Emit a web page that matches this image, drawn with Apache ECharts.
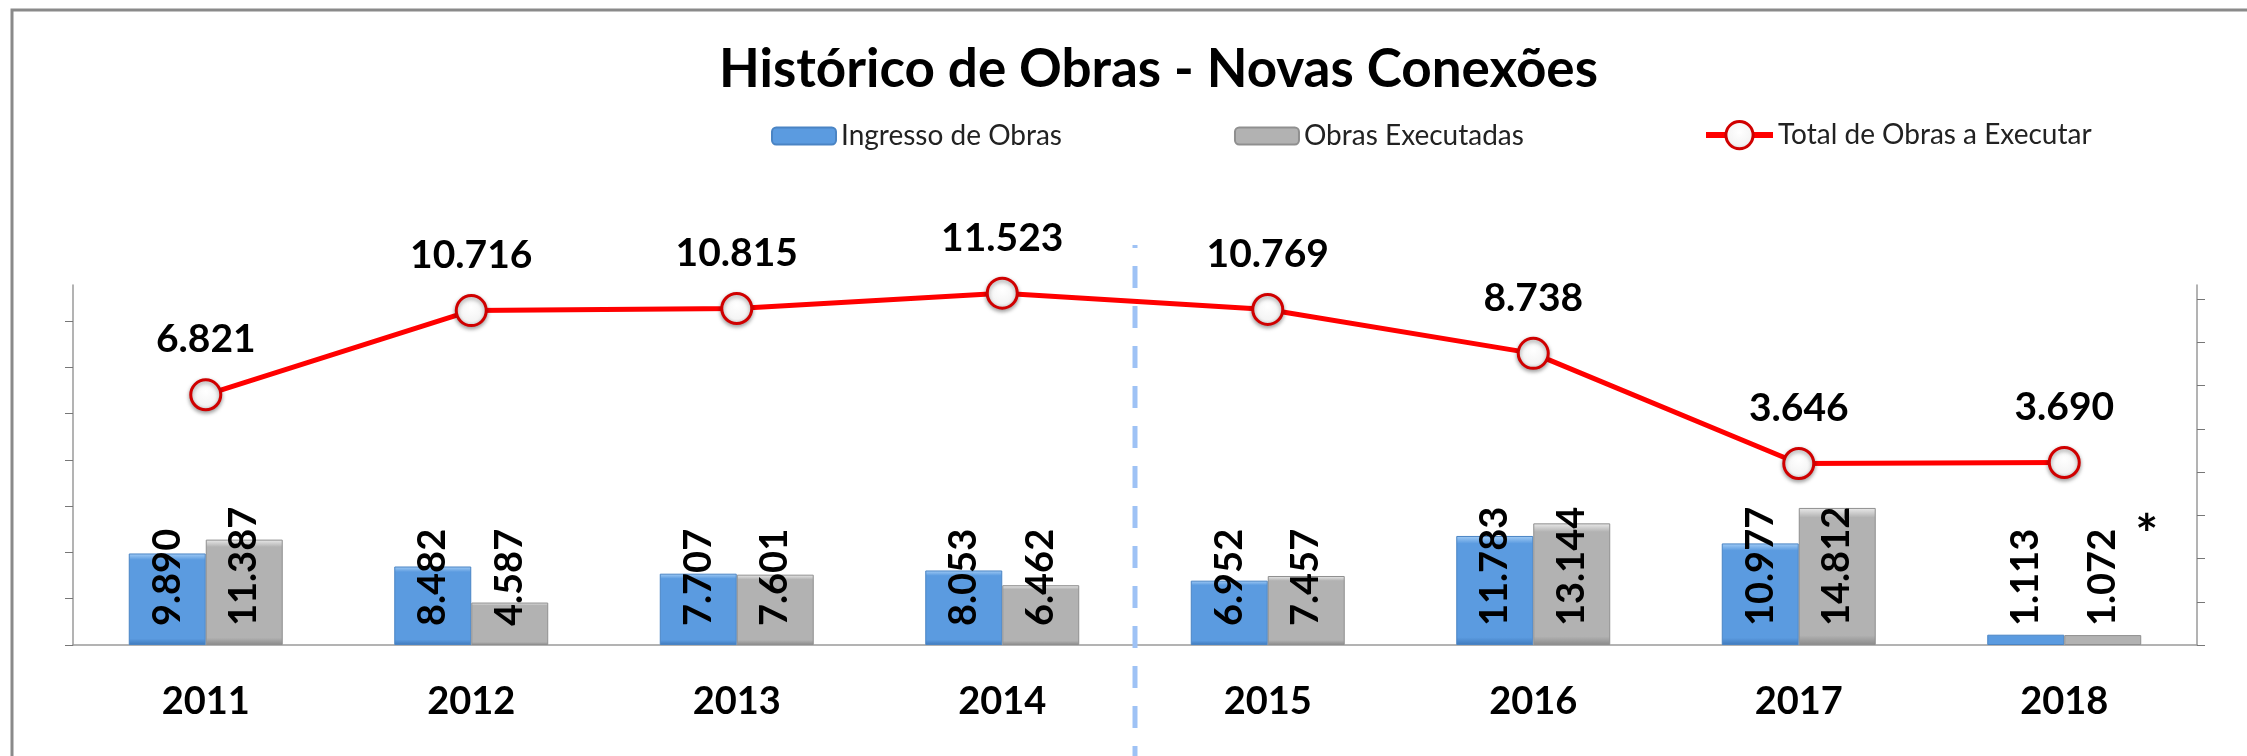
<!DOCTYPE html>
<html>
<head>
<meta charset="utf-8">
<script src="https://cdn.jsdelivr.net/npm/echarts@6/dist/echarts.min.js"></script>
<style>
  html, body { margin: 0; padding: 0; background: #fff; }
  #chart { width: 2247px; height: 756px; }
</style>
</head>
<body>
<div id="chart"></div>
<script>
const anos = ['2011', '2012', '2013', '2014', '2015', '2016', '2017', '2018']
const ingressoObras = [9890, 8482, 7707, 8053, 6952, 11783, 10977, 1113]
const obrasExecutadas = [11387, 4587, 7601, 6462, 7457, 13144, 14812, 1072]
const totalAExecutar = [6821, 10716, 10815, 11523, 10769, 8738, 3646, 3690]
// marcas dos eixos (sem rótulos no original)
const ticksEsquerda = [0, 5000, 10000, 15000, 20000, 25000, 30000, 35000]
const ticksDireita = [-4750, -2750, -750, 1250, 3250, 5250, 7250, 9250, 11250]
const anoDivisao = '2015' // linha tracejada antes deste ano
const anoAsterisco = '2018'

const fonte = 'Lato'

function fmt(v) {
  const mil = Math.floor(v / 1000)
  const resto = String(v % 1000).padStart(3, '0')
  return mil > 0 ? mil + '.' + resto : String(v)
}

function grad(top, mid, bottom) {
  return new echarts.graphic.LinearGradient(0, 0, 0, 1, [
    { offset: 0, color: top },
    { offset: 0.07, color: mid },
    { offset: 0.93, color: mid },
    { offset: 1, color: bottom }
  ])
}

const chart = echarts.init(document.getElementById('chart'))

const rotuloBarra = {
  show: true,
  position: 'insideBottom',
  distance: 19,
  rotate: 90,
  align: 'left',
  verticalAlign: 'middle',
  fontFamily: fonte,
  fontWeight: 'bold',
  fontSize: 38,
  color: '#000',
  formatter: p => fmt(p.value)
}

const corMarcador = new echarts.graphic.RadialGradient(0.5, 0.4, 0.6, [
  { offset: 0, color: '#ffffff' },
  { offset: 0.7, color: '#f4f4f4' },
  { offset: 1, color: '#d0d0d0' }
])

const idxDivisao = anos.indexOf(anoDivisao)

chart.setOption({
  backgroundColor: '#fff',
  animation: false,
  graphic: [{
    type: 'rect',
    shape: { x: 12, y: 10, width: 2400, height: 900 },
    style: { fill: 'none', stroke: '#8a8a8a', lineWidth: 3 },
    silent: true
  }],
  title: {
    text: 'Histórico de Obras - Novas Conexões',
    left: 714,
    top: 38,
    textStyle: { fontFamily: fonte, fontWeight: 'bold', fontSize: 53, color: '#000' }
  },
  legend: [{
    data: ['Ingresso de Obras', 'Obras Executadas'],
    left: 766,
    top: 117,
    itemGap: 172,
    itemWidth: 64,
    itemHeight: 17,
    textStyle: { fontFamily: fonte, fontSize: 28, color: '#222' }
  }, {
    data: ['Total de Obras a Executar'],
    left: 1698,
    top: 115,
    itemWidth: 67,
    itemHeight: 34,
    lineStyle: { width: 6 },
    itemStyle: { borderWidth: 3 },
    textStyle: { fontFamily: fonte, fontSize: 28, color: '#222' }
  }],
  grid: [
    { left: 73, right: 50, top: 285, bottom: 111 },
    { left: 73, right: 50, top: 245, bottom: 0 }
  ],
  xAxis: [{
    type: 'category',
    data: anos,
    gridIndex: 0,
    axisLine: { lineStyle: { color: '#9a9a9a', width: 1.5 } },
    axisTick: { length: 15, lineStyle: { color: '#9a9a9a', width: 1.5 } },
    axisLabel: { margin: 38, fontFamily: fonte, fontWeight: 'bold', fontSize: 38, color: '#000' }
  }, {
    type: 'value',
    gridIndex: 1,
    min: 0,
    max: anos.length,
    show: false
  }],
  yAxis: [{
    type: 'value',
    gridIndex: 0,
    position: 'left',
    min: 0,
    max: 38900,
    axisLine: { show: true, lineStyle: { color: '#9a9a9a', width: 1.5 } },
    axisTick: { show: true, length: 8, customValues: ticksEsquerda, lineStyle: { color: '#777' } },
    axisLabel: { show: false },
    splitLine: { show: false }
  }, {
    type: 'value',
    gridIndex: 0,
    position: 'right',
    min: -4750,
    max: 11900,
    axisLine: { show: true, lineStyle: { color: '#9a9a9a', width: 1.5 } },
    axisTick: { show: true, length: 8, customValues: ticksDireita, lineStyle: { color: '#777' } },
    axisLabel: { show: false },
    splitLine: { show: false }
  }, {
    type: 'value',
    gridIndex: 1,
    min: 0,
    max: 1,
    show: false
  }],
  series: [{
    name: 'Ingresso de Obras',
    type: 'bar',
    data: ingressoObras,
    barGap: '0%',
    barCategoryGap: '42%',
    itemStyle: {
      color: grad('#a4cdf6', '#5b9be0', '#3f79bb'),
      borderColor: '#4a84c4',
      borderWidth: 1
    },
    label: rotuloBarra,
    z: 2
  }, {
    name: 'Obras Executadas',
    type: 'bar',
    data: obrasExecutadas,
    itemStyle: {
      color: grad('#ebebeb', '#b2b2b2', '#8a8a8a'),
      borderColor: '#8f8f8f',
      borderWidth: 1
    },
    label: rotuloBarra,
    markPoint: {
      symbol: 'circle',
      symbolSize: 0,
      data: [{
        coord: [anoAsterisco, obrasExecutadas[anos.indexOf(anoAsterisco)]],
        label: {
          show: true,
          formatter: '*',
          offset: [44, -100],
          fontFamily: fonte,
          fontWeight: 'bold',
          fontSize: 54,
          color: '#000'
        }
      }]
    },
    z: 2
  }, {
    name: 'Total de Obras a Executar',
    type: 'line',
    yAxisIndex: 1,
    data: totalAExecutar,
    symbol: 'circle',
    symbolSize: 30,
    lineStyle: { color: '#ff0000', width: 5 },
    itemStyle: {
      color: corMarcador,
      borderColor: '#d00000',
      borderWidth: 3,
      shadowBlur: 4,
      shadowOffsetY: 2,
      shadowColor: 'rgba(0,0,0,0.35)'
    },
    label: {
      show: true,
      position: 'top',
      distance: 19,
      fontFamily: fonte,
      fontWeight: 'bold',
      fontSize: 39,
      color: '#000',
      formatter: p => fmt(p.value)
    },
    z: 5
  }, {
    name: 'divisao',
    type: 'line',
    xAxisIndex: 1,
    yAxisIndex: 2,
    data: [[idxDivisao, 1], [idxDivisao, 0]],
    symbol: 'none',
    silent: true,
    lineStyle: { color: '#9ec2f5', width: 5, type: [22, 18], dashOffset: 19 },
    z: 1
  }]
})
</script>
</body>
</html>
